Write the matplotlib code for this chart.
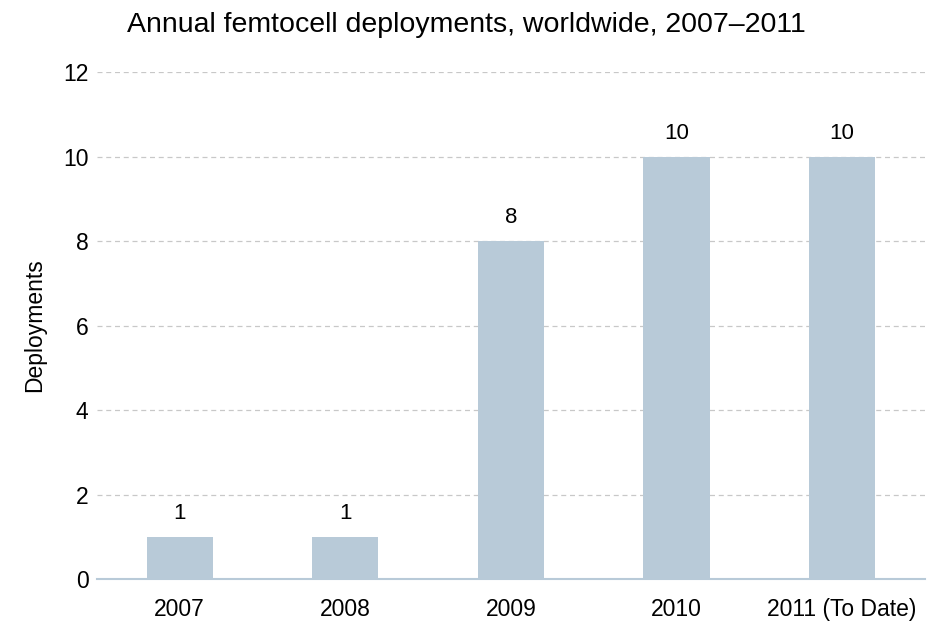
import matplotlib
matplotlib.use('Agg')
import matplotlib.pyplot as plt
import numpy as np

years = ['2007', '2008', '2009', '2010', '2011 (To Date)']
deployments = [1, 1, 8, 10, 10]

plt.rcParams['font.family'] = ['Liberation Sans', 'DejaVu Sans']

fig = plt.figure(figsize=(9.4, 6.21), dpi=100)
ax = fig.add_axes([0.103, 0.0676, 0.881, 0.8164])

x = np.arange(len(years))
ax.bar(x, deployments, width=0.4, color='#b8cad8', zorder=2)
for xi, v in zip(x, deployments):
    ax.text(xi, v + 0.42, str(v), ha='center', va='baseline', fontsize=16)

ax.set_xlim(-0.5, len(years) - 0.5)
ax.set_ylim(0, 12)
ax.set_yticks(range(0, 13, 2))
ax.set_xticks(x)
ax.set_xticklabels(years)
ax.tick_params(axis='both', length=0, labelsize=16.5)
ax.tick_params(axis='x', pad=14)
ax.tick_params(axis='y', pad=6)
ax.yaxis.grid(True, linestyle=(0, (4, 3)), color='#c8c8c8', linewidth=0.9, zorder=0)
for s in ['top', 'right', 'left']:
    ax.spines[s].set_visible(False)
ax.spines['bottom'].set_color('#b8cad8')
ax.spines['bottom'].set_linewidth(1.5)
ax.set_ylabel('Deployments', fontsize=16.5, labelpad=12)
fig.text(0.496, 0.948, 'Annual femtocell deployments, worldwide, 2007\u20132011',
         ha='center', va='baseline', fontsize=20.5)

fig.savefig('out.png', dpi=100)
